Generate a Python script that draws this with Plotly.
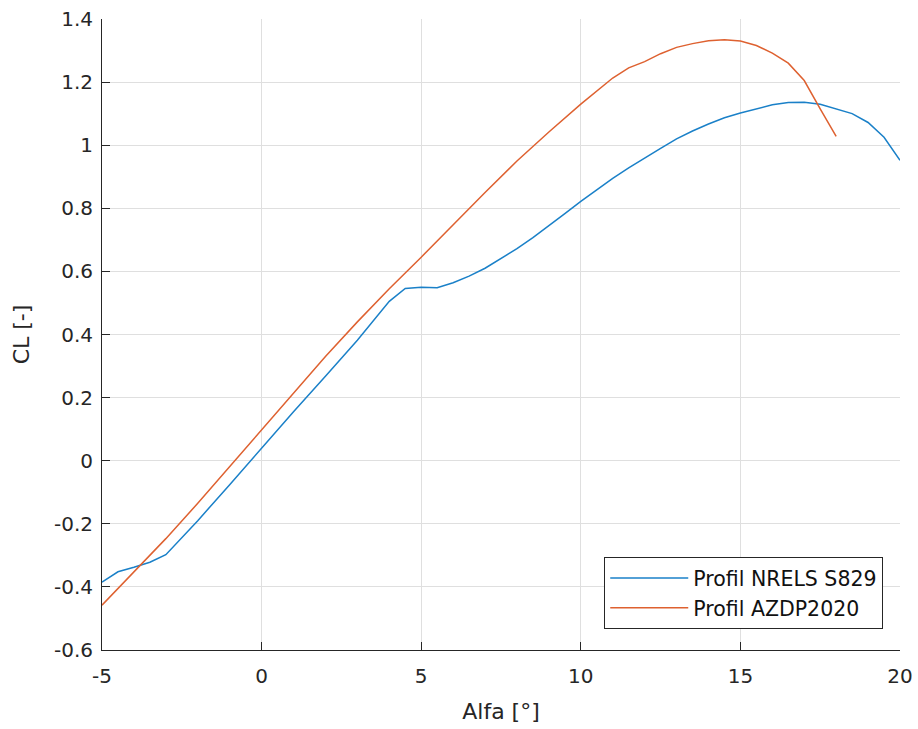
import plotly.graph_objects as go

# Lift coefficient vs. angle of attack for two airfoil profiles
alfa_s829 = [-5, -4.5, -4, -3.5, -3, -2, -1, 0, 1, 2, 3, 4, 4.5, 5, 5.5, 6, 6.5,
             7, 7.5, 8, 8.5, 9, 9.5, 10, 10.5, 11, 11.5, 12, 12.5, 13, 13.5,
             14, 14.5, 15, 15.5, 16, 16.5, 17, 17.5, 18, 18.5, 19, 19.5, 20]
cl_s829 = [-0.385, -0.352, -0.338, -0.322, -0.298, -0.19, -0.076, 0.040, 0.155,
           0.268, 0.382, 0.505, 0.546, 0.550, 0.548, 0.564, 0.585,
           0.610, 0.640, 0.672, 0.707, 0.744, 0.783, 0.822, 0.859, 0.895, 0.928,
           0.960, 0.990, 1.020, 1.045, 1.067, 1.087, 1.102, 1.116, 1.128, 1.135,
           1.136, 1.130, 1.116, 1.100, 1.072, 1.025, 0.952]

alfa_azdp = [-5, -4.5, -4, -3.5, -3, -2, -1, 0, 1, 2, 3, 4, 5, 6, 7, 8, 9, 10,
             11, 11.5, 12, 12.5, 13, 13.5, 14, 14.5, 15, 15.5, 16, 16.5, 17,
             17.5, 18]
cl_azdp = [-0.458, -0.405, -0.352, -0.300, -0.247, -0.135, -0.018, 0.098, 0.214,
           0.330, 0.440, 0.545, 0.645, 0.748, 0.850, 0.950, 1.042, 1.130,
           1.213, 1.245, 1.265, 1.290, 1.310, 1.322, 1.331, 1.334, 1.330, 1.316,
           1.292, 1.260, 1.205, 1.115, 1.028]

x_ticks = [-5, 0, 5, 10, 15, 20]
y_ticks = [-0.6, -0.4, -0.2, 0, 0.2, 0.4, 0.6, 0.8, 1, 1.2, 1.4]
y_tick_text = ["-0.6", "-0.4", "-0.2", "0", "0.2", "0.4", "0.6", "0.8", "1", "1.2", "1.4"]

FONT = "DejaVu Sans, Liberation Sans, Arial, sans-serif"
INK = "#262626"
GRID = "#dfdfdf"

fig = go.Figure()
fig.add_trace(go.Scatter(x=alfa_s829, y=cl_s829, mode="lines",
                         name="Profil NRELS S829",
                         line=dict(color="#1a80c8", width=1.5)))
fig.add_trace(go.Scatter(x=alfa_azdp, y=cl_azdp, mode="lines",
                         name="Profil AZDP2020",
                         line=dict(color="#de6130", width=1.5)))

axis_common = dict(
    showgrid=True, gridcolor=GRID, gridwidth=1,
    zeroline=False, showline=True, linecolor=INK, linewidth=1,
    ticks="inside", ticklen=8, tickcolor=INK, tickwidth=1,
    tickfont=dict(family=FONT, size=20, color=INK),
)

fig.update_xaxes(range=[-5, 20], tickmode="array", tickvals=x_ticks,
                 ticktext=[str(v) for v in x_ticks],
                 title=dict(text="Alfa [°]", font=dict(family=FONT, size=22, color=INK),
                            standoff=16),
                 ticklabelstandoff=8,
                 **axis_common)
fig.update_yaxes(range=[-0.6, 1.4], tickmode="array", tickvals=y_ticks,
                 ticktext=y_tick_text,
                 title=dict(text="CL [-]", font=dict(family=FONT, size=22, color=INK),
                            standoff=18),
                 ticklabelstandoff=4,
                 **axis_common)

fig.update_layout(
    width=918, height=729,
    margin=dict(l=102, r=18, t=19, b=79, autoexpand=False),
    paper_bgcolor="white", plot_bgcolor="white",
    font=dict(family=FONT, color=INK),
    showlegend=True,
    legend=dict(x=0.979, y=0.033, xanchor="right", yanchor="bottom",
                bgcolor="white", bordercolor=INK, borderwidth=1,
                font=dict(family=FONT, size=20.5, color="#111111"),
                itemwidth=78, tracegroupgap=0),
)

fig.write_html("out.html")
